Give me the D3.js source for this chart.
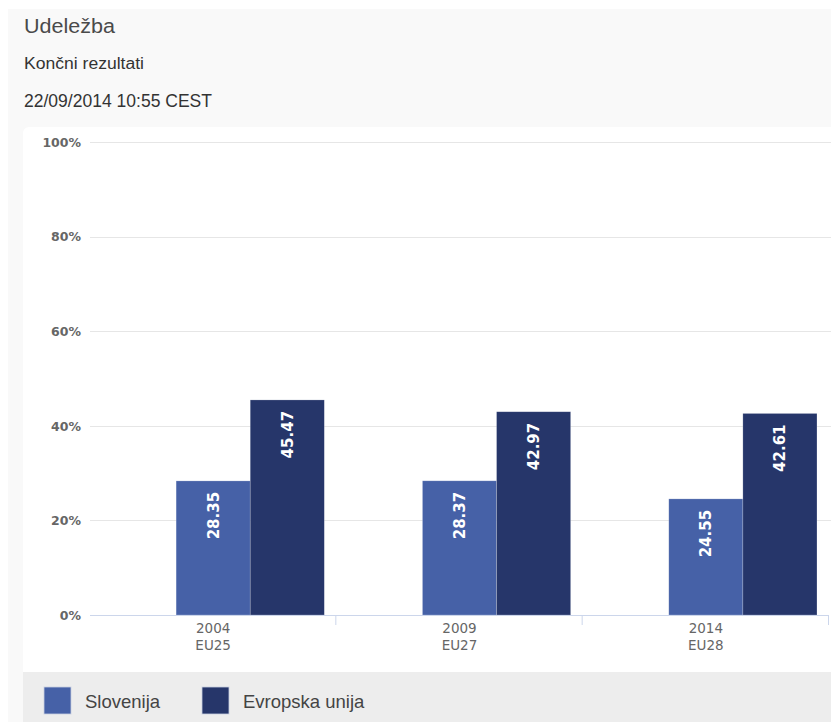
<!DOCTYPE html>
<html><head><meta charset="utf-8">
<script src="https://cdn.jsdelivr.net/npm/d3@7/dist/d3.min.js"></script>
<style>
html,body{margin:0;padding:0;background:#fff;}
svg{display:block;}
</style></head>
<body>
<svg id="c" width="831" height="722"></svg>
<script>
const categories = ["2004", "2009", "2014"];
const subLabels = ["EU25", "EU27", "EU28"];
const seriesNames = ["Slovenija", "Evropska unija"];
const slovenija = [28.35, 28.37, 24.55];
const evropskaUnija = [45.47, 42.97, 42.61];
const yTicks = [0, 20, 40, 60, 80, 100];
const colors = ["#4661a7", "#26366a"];

const svg = d3.select("#c");
// panel background
svg.append("rect").attr("x", 8).attr("y", 9).attr("width", 823).attr("height", 713).attr("fill", "#f9f9f9");
// white chart box
svg.append("rect").attr("x", 23).attr("y", 127).attr("width", 820).attr("height", 560).attr("rx", 6).attr("fill", "#ffffff");
// legend area
const lg = svg.append("g");
lg.append("rect").attr("x", 23).attr("y", 672).attr("width", 808).attr("height", 50).attr("fill", "#ededed");

// titles
const tf = "Liberation Sans, Arial, sans-serif";
svg.append("text").attr("x", 24).attr("y", 33).text("Udeležba")
  .attr("font-family", tf).attr("font-size", 20.5).attr("fill", "#4a4a4a")
  .attr("textLength", 91).attr("lengthAdjust", "spacingAndGlyphs");
svg.append("text").attr("x", 24).attr("y", 68.5).text("Končni rezultati")
  .attr("font-family", tf).attr("font-size", 16).attr("fill", "#333")
  .attr("textLength", 120).attr("lengthAdjust", "spacingAndGlyphs");
svg.append("text").attr("x", 24).attr("y", 107).text("22/09/2014 10:55 CEST")
  .attr("font-family", tf).attr("font-size", 17.5).attr("fill", "#333")
  .attr("textLength", 188).attr("lengthAdjust", "spacingAndGlyphs");

// scales
const x0 = d3.scaleBand().domain(categories).range([90, 829]).paddingInner(0).paddingOuter(0);
// three slots: an empty slot, then the two series (as in the original layout)
const slots = ["_empty"].concat(seriesNames);
const x1 = d3.scaleBand().domain(slots).range([0, x0.bandwidth()]).paddingInner(0).paddingOuter(12 / 74);
const y = d3.scaleLinear().domain([0, 100]).range([615, 142]);

// gridlines
svg.append("g").selectAll("line").data(yTicks.filter(d => d > 0)).join("line")
  .attr("x1", 90).attr("x2", 831).attr("y1", d => Math.round(y(d)) + 0.5).attr("y2", d => Math.round(y(d)) + 0.5)
  .attr("stroke", "#e6e6e6").attr("stroke-width", 1);

// y axis labels
const yAxis = d3.axisLeft(y).tickValues(yTicks).tickSize(0).tickPadding(0).tickFormat(d => d + "%");
const ya = svg.append("g").attr("transform", "translate(81,0)").call(yAxis);
ya.select(".domain").remove();
ya.selectAll("text").attr("font-family", "DejaVu Sans, Verdana, sans-serif").attr("font-weight", "bold")
  .attr("font-size", 12.5).attr("fill", "#666").attr("dy", "0.35em");

// bars
const data = categories.map((c, i) => ({ cat: c, vals: [slovenija[i], evropskaUnija[i]] }));
const grp = svg.append("g").selectAll("g").data(data).join("g")
  .attr("transform", d => `translate(${x0(d.cat)},0)`);
grp.selectAll("rect").data(d => d.vals.map((v, j) => ({ v, s: seriesNames[j], j }))).join("rect")
  .attr("x", d => x1(d.s)).attr("width", x1.bandwidth())
  .attr("y", d => y(d.v)).attr("height", d => y(0) - y(d.v))
  .attr("fill", d => colors[d.j]).attr("stroke", "#ffffff").attr("stroke-opacity", 0.35).attr("stroke-width", 0.6);
grp.selectAll("text.val").data(d => d.vals.map((v, j) => ({ v, s: seriesNames[j], j }))).join("text")
  .attr("class", "val")
  .attr("transform", d => `translate(${x1(d.s) + x1.bandwidth() / 2},${y(d.v) + 11}) rotate(-90)`)
  .attr("text-anchor", "end").attr("dy", "0.36em")
  .attr("font-family", "DejaVu Sans, Verdana, sans-serif").attr("font-weight", "bold").attr("font-size", 15)
  .attr("fill", "#fff").text(d => d.v.toFixed(2));

// x axis
const xAxis = d3.axisBottom(x0).tickSize(0).tickFormat(() => "");
const xa = svg.append("g").attr("transform", "translate(0,615.5)").call(xAxis);
xa.select(".domain").attr("stroke", "#ccd6eb").attr("d", "M90,0H829");
// tick marks at category boundaries
svg.append("g").selectAll("line").data(categories).join("line")
  .attr("x1", d => x0(d) + x0.bandwidth() - 0.5).attr("x2", d => x0(d) + x0.bandwidth() - 0.5)
  .attr("y1", 615).attr("y2", 625).attr("stroke", "#ccd6eb");
const xl = svg.append("g").selectAll("text").data(categories).join("text")
  .attr("x", d => x0(d) + x0.bandwidth() / 2).attr("y", 633)
  .attr("text-anchor", "middle").attr("font-family", "DejaVu Sans, Verdana, sans-serif").attr("font-size", 13.5).attr("fill", "#666");
xl.append("tspan").attr("x", d => x0(d) + x0.bandwidth() / 2).text(d => d);
xl.append("tspan").attr("x", d => x0(d) + x0.bandwidth() / 2).attr("dy", 17).text((d, i) => subLabels[i]);

// legend
const legX = [44, 202];
seriesNames.forEach((s, i) => {
  lg.append("rect").attr("x", legX[i]).attr("y", 687).attr("width", 27).attr("height", 27)
    .attr("fill", colors[i]).attr("stroke", "#c8cfe0").attr("stroke-width", 0.8);
  lg.append("text").attr("x", legX[i] + 41).attr("y", 707.5).text(s)
    .attr("font-family", tf).attr("font-size", 18.5).attr("fill", "#444");
});
</script>
</body></html>
